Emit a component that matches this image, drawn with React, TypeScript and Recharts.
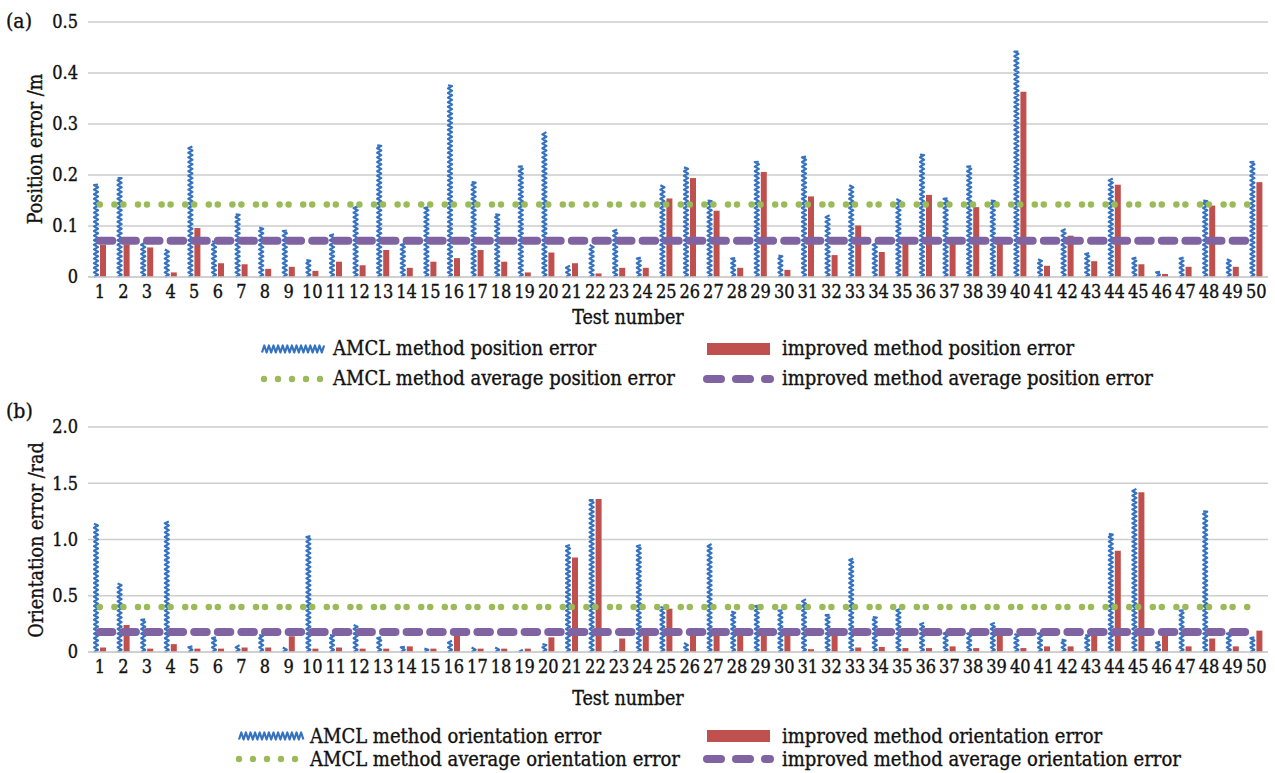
import React from 'react';
import { ComposedChart, Bar, Line, XAxis, YAxis, CartesianGrid } from 'recharts';

// ---------- data ----------
const testNumbers = [
  '1', '2', '3', '4', '5', '6', '7', '8', '9', '10',
  '11', '12', '13', '14', '15', '16', '17', '18', '19', '20',
  '21', '22', '23', '24', '25', '26', '27', '28', '29', '30',
  '31', '32', '33', '34', '35', '36', '37', '38', '39', '40',
  '41', '42', '43', '44', '45', '46', '47', '48', '49', '50',
];

const amclPositionError = [
  0.181, 0.194, 0.067, 0.054, 0.256, 0.07, 0.123, 0.097, 0.091, 0.033,
  0.084, 0.138, 0.258, 0.065, 0.137, 0.376, 0.186, 0.123, 0.217, 0.284,
  0.022, 0.063, 0.093, 0.038, 0.18, 0.215, 0.15, 0.037, 0.226, 0.042,
  0.236, 0.121, 0.18, 0.066, 0.153, 0.24, 0.154, 0.217, 0.15, 0.442,
  0.035, 0.094, 0.047, 0.193, 0.038, 0.01, 0.038, 0.15, 0.035, 0.226,
];

const improvedPositionError = [
  0.063, 0.064, 0.058, 0.009, 0.096, 0.027, 0.025, 0.016, 0.02, 0.012,
  0.03, 0.023, 0.053, 0.018, 0.03, 0.037, 0.053, 0.03, 0.009, 0.048,
  0.027, 0.007, 0.018, 0.018, 0.154, 0.194, 0.13, 0.018, 0.206, 0.014,
  0.158, 0.043, 0.101, 0.049, 0.068, 0.161, 0.068, 0.137, 0.068, 0.363,
  0.022, 0.081, 0.031, 0.181, 0.025, 0.006, 0.02, 0.14, 0.02, 0.186,
];

const amclOrientationError = [
  1.14, 0.61, 0.29, 1.16, 0.05, 0.13, 0.06, 0.15, 0.04, 1.03,
  0.15, 0.24, 0.13, 0.045, 0.03, 0.1, 0.04, 0.04, 0.02, 0.07,
  0.95, 1.35, 0.01, 0.95, 0.4, 0.08, 0.96, 0.36, 0.41, 0.37,
  0.47, 0.33, 0.83, 0.31, 0.385, 0.26, 0.18, 0.17, 0.26, 0.16,
  0.17, 0.11, 0.15, 1.05, 1.45, 0.09, 0.37, 1.25, 0.17, 0.13,
];

const improvedOrientationError = [
  0.04, 0.24, 0.03, 0.07, 0.03, 0.03, 0.04, 0.04, 0.14, 0.03,
  0.04, 0.03, 0.03, 0.05, 0.03, 0.15, 0.03, 0.03, 0.03, 0.13,
  0.84, 1.36, 0.12, 0.15, 0.385, 0.15, 0.17, 0.15, 0.15, 0.15,
  0.025, 0.15, 0.04, 0.045, 0.035, 0.035, 0.05, 0.035, 0.15, 0.035,
  0.05, 0.05, 0.15, 0.9, 1.42, 0.15, 0.05, 0.12, 0.05, 0.19,
];

const amclAveragePositionError = 0.142;
const improvedAveragePositionError = 0.071;
const amclAverageOrientationError = 0.4;
const improvedAverageOrientationError = 0.178;

const positionTicks = [0, 0.1, 0.2, 0.3, 0.4, 0.5];
const orientationTicks = [0, 0.5, 1.0, 1.5, 2.0];

const positionRows = testNumbers.map((t, i) => ({
  test: t,
  amcl: amclPositionError[i],
  improved: improvedPositionError[i],
  amclAvg: amclAveragePositionError,
  improvedAvg: improvedAveragePositionError,
}));

const orientationRows = testNumbers.map((t, i) => ({
  test: t,
  amcl: amclOrientationError[i],
  improved: improvedOrientationError[i],
  amclAvg: amclAverageOrientationError,
  improvedAvg: improvedAverageOrientationError,
}));

// ---------- styles ----------
const FONT = '"DejaVu Serif Condensed", "DejaVu Serif", serif';
const BLUE = '#3572c0';
const RED = '#c0504d';
const GREEN = '#9bbb59';
const PURPLE = '#8064a2';
const GRID = '#cdcdcd';
const TEXT = '#111';
const TICK_SIZE = 18;
const TITLE_SIZE = 19.5;
const LEG_SIZE = 20;
const TEXT_STROKE = 0.35;

const fmt = (v: number) => (v === 0 ? '0' : v.toFixed(1));

const ZigzagBar = (props: any) => {
  const { x, y, width, height } = props;
  if (height == null || height <= 0 || isNaN(height)) return null;
  const step = 2.3;
  const bottom = y + height;
  const xl = x + 1;
  const xr = x + width - 1;
  let d = `M${xl},${bottom}`;
  let left = false;
  let yy = bottom - step;
  while (yy > y) {
    d += ` L${left ? xl : xr},${yy}`;
    left = !left;
    yy -= step;
  }
  d += ` L${left ? xl : xr},${y}`;
  return <path d={d} stroke={BLUE} strokeWidth={2.2} fill="none" strokeLinejoin="round" />;
};

const tickStyle = { fill: TEXT, fontSize: TICK_SIZE, fontFamily: FONT, stroke: TEXT, strokeWidth: TEXT_STROKE };

function Panel({ rows, height, marginTop, xAxisHeight, domain, ticks }: any) {
  return (
    <ComposedChart
      width={1275}
      height={height}
      data={rows}
      margin={{ top: marginTop, right: 7, left: 0, bottom: 0 }}
      barSize={6}
      barGap={1}
      style={{ fontFamily: FONT }}
    >
      <CartesianGrid vertical={false} stroke={GRID} strokeWidth={1.5} />
      <XAxis
        dataKey="test"
        interval={0}
        tickLine={false}
        tickSize={0}
        tickMargin={8}
        axisLine={{ stroke: GRID, strokeWidth: 1.5 }}
        tick={tickStyle}
        height={xAxisHeight}
      />
      <YAxis
        width={88}
        domain={domain}
        ticks={ticks}
        tickFormatter={fmt}
        axisLine={false}
        tickLine={false}
        tickSize={0}
        tickMargin={10}
        tick={tickStyle}
      />
      <Bar dataKey="amcl" shape={<ZigzagBar />} isAnimationActive={false} />
      <Bar dataKey="improved" fill={RED} isAnimationActive={false} />
      <Line
        dataKey="amclAvg"
        type="linear"
        stroke={GREEN}
        strokeWidth={6.5}
        strokeDasharray="0 14.6 0 9"
        strokeLinecap="round"
        dot={false}
        activeDot={false}
        isAnimationActive={false}
      />
      <Line
        dataKey="improvedAvg"
        type="linear"
        stroke={PURPLE}
        strokeWidth={8}
        strokeDasharray="12.5 11.1"
        strokeLinecap="round"
        dot={false}
        activeDot={false}
        isAnimationActive={false}
      />
    </ComposedChart>
  );
}

function hZigzag(x0: number, x1: number, yc: number) {
  const step = 2.3;
  const yt = yc - 3.5;
  const yb = yc + 3.5;
  let d = `M${x0},${yb}`;
  let top = true;
  for (let xx = x0 + step; xx < x1; xx += step) {
    d += ` L${xx},${top ? yt : yb}`;
    top = !top;
  }
  return <path d={d} stroke={BLUE} strokeWidth={2.2} fill="none" strokeLinejoin="round" />;
}

function greenDots(x0: number, yc: number) {
  return [0, 1, 2, 3, 4].map((i) => <circle key={i} cx={x0 + i * 14} cy={yc} r={3.2} fill={GREEN} />);
}

function purpleDashes(x0: number, yc: number) {
  return (
    <g stroke={PURPLE} strokeWidth={8} strokeLinecap="round">
      <line x1={x0 + 4} y1={yc} x2={x0 + 18} y2={yc} />
      <line x1={x0 + 33} y1={yc} x2={x0 + 47} y2={yc} />
      <line x1={x0 + 62} y1={yc} x2={x0 + 67} y2={yc} />
    </g>
  );
}

function Overlay() {
  return (
    <svg
      width={1275}
      height={773}
      style={{ position: 'absolute', left: 0, top: 0, pointerEvents: 'none', fontFamily: FONT }}
    >
      <g fill={TEXT} stroke={TEXT} strokeWidth={TEXT_STROKE}>
        <text x={6} y={28} fontSize={21}>(a)</text>
        <text x={6} y={418} fontSize={21}>(b)</text>

        <text transform="translate(42,149) rotate(-90)" textAnchor="middle" fontSize={TITLE_SIZE}>
          Position error /m
        </text>
        <text transform="translate(43,540) rotate(-90)" textAnchor="middle" fontSize={TITLE_SIZE}>
          Orientation error /rad
        </text>

        <text x={628} y={324} textAnchor="middle" fontSize={TITLE_SIZE}>Test number</text>
        <text x={628} y={705} textAnchor="middle" fontSize={TITLE_SIZE}>Test number</text>

        <text x={333} y={355} fontSize={LEG_SIZE}>AMCL method position error</text>
        <text x={782} y={355} fontSize={LEG_SIZE}>improved method position error</text>
        <text x={333} y={385} fontSize={LEG_SIZE}>AMCL method average position error</text>
        <text x={782} y={385} fontSize={LEG_SIZE}>improved method average position error</text>

        <text x={310} y={743} fontSize={LEG_SIZE}>AMCL method orientation error</text>
        <text x={782} y={743} fontSize={LEG_SIZE}>improved method orientation error</text>
        <text x={310} y={766} fontSize={LEG_SIZE}>AMCL method average orientation error</text>
        <text x={782} y={766} fontSize={LEG_SIZE}>improved method average orientation error</text>
      </g>

      {/* legend (a) swatches */}
      {hZigzag(262, 326, 349)}
      <rect x={707} y={343} width={63} height={12} fill={RED} />
      {greenDots(264, 379)}
      {purpleDashes(703, 379)}

      {/* legend (b) swatches */}
      {hZigzag(239, 305, 736)}
      <rect x={707} y={730} width={63} height={12} fill={RED} />
      {greenDots(239, 759)}
      {purpleDashes(703, 759)}
    </svg>
  );
}

export default function App() {
  return (
    <div style={{ position: 'absolute', left: 0, top: 0, width: 1275, height: 773, background: '#fff', overflow: 'hidden' }}>
      <div style={{ position: 'absolute', left: 0, top: 0 }}>
        <Panel rows={positionRows} height={390} marginTop={22} xAxisHeight={113} domain={[0, 0.5]} ticks={positionTicks} />
      </div>
      <div style={{ position: 'absolute', left: 0, top: 390 }}>
        <Panel rows={orientationRows} height={383} marginTop={37} xAxisHeight={121} domain={[0, 2]} ticks={orientationTicks} />
      </div>
      <Overlay />
    </div>
  );
}
